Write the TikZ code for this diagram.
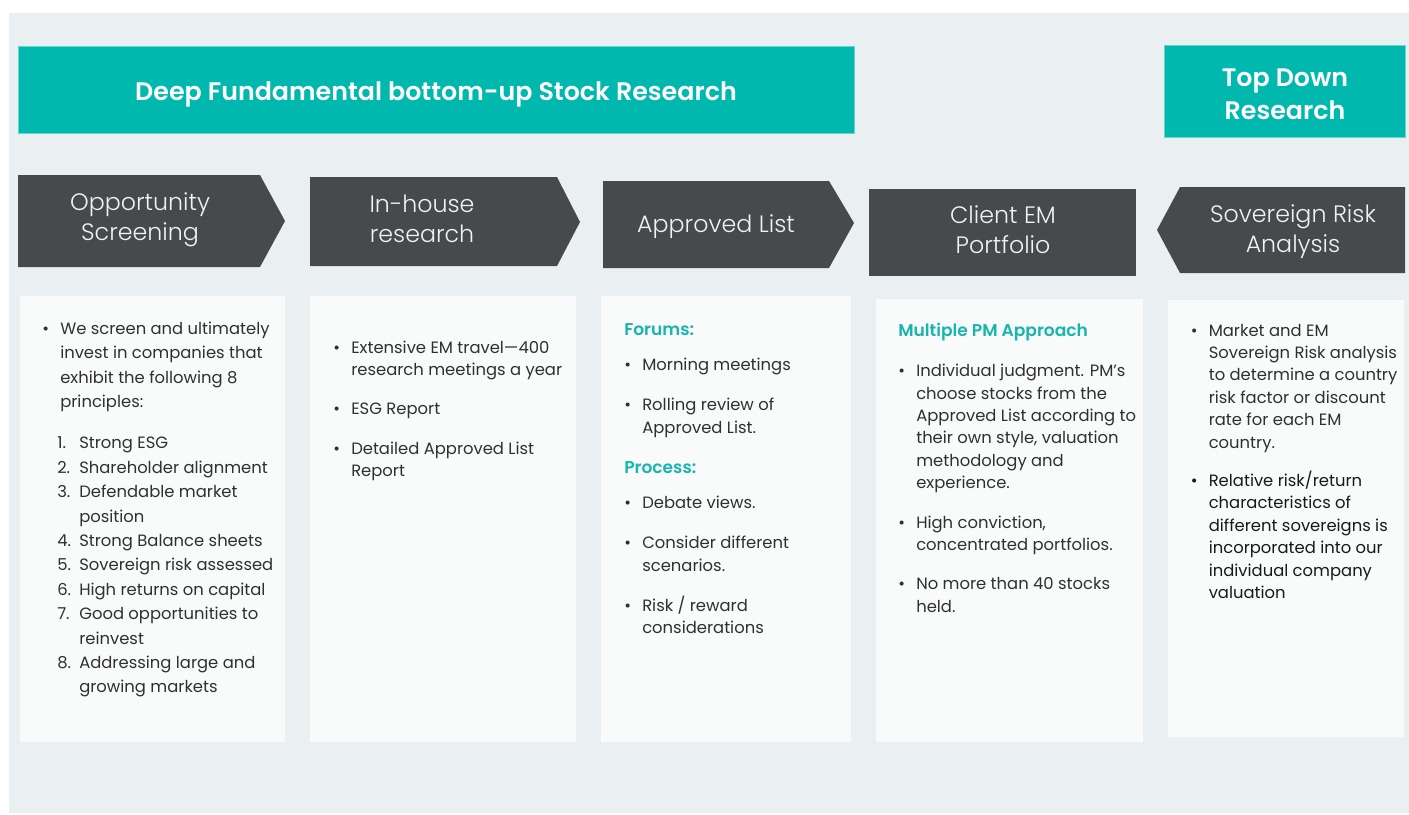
\documentclass[tikz,border=0pt]{standalone}
\usepackage{fontspec}
\setmainfont{Poppins}
\newfontfamily\lightfont{Poppins Light}
\newfontfamily\semifont{Poppins SemiBold}
\usetikzlibrary{positioning}

\definecolor{panelbg}{HTML}{EAEFF2}
\definecolor{cardbg}{HTML}{F9FBFB}
\definecolor{bannerteal}{HTML}{00B8AE}
\definecolor{chevgrey}{HTML}{474A4D}
\definecolor{headteal}{HTML}{16B6AD}
\definecolor{bodytext}{HTML}{303030}

% bullet and hanging indent for the card texts
\newcommand{\bul}{\makebox[13.5pt][l]{\textbullet}}
\newcommand{\ind}{\hspace*{13.5pt}}
\newcommand{\num}[1]{\hspace*{11.25pt}\makebox[16.5pt][l]{#1}}
\newcommand{\numind}{\hspace*{27.75pt}}
\newcommand{\cardhead}[1]{{\color{headteal}\semifont\fontsize{12.8pt}{16.8pt}\selectfont #1}}

\begin{document}
\begin{tikzpicture}[x=0.75pt,y=-0.75pt,
    banner/.style={fill=bannerteal, draw=bannerteal!60!white, line width=0.75pt},
    bannertext/.style={text=white, font=\semifont\fontsize{19pt}{25pt}\selectfont, align=center},
    chevron/.style={fill=chevgrey},
    chevtext/.style={text=white!95!black, font=\lightfont\fontsize{17.8pt}{22.5pt}\selectfont, align=center},
    card/.style={fill=cardbg},
    cardtext/.style={anchor=north west, inner sep=0pt, align=left, text=bodytext,
      font=\fontsize{12.3pt}{16.8pt}\selectfont}]

    \useasboundingbox (0,0) rectangle (1409,814);
    \fill[panelbg] (9,13) rectangle (1409,813);

    % Banners
    \draw[banner] (18,46) rectangle (854,133);
    \node[bannertext] (bottomup) at (436,94) {Deep Fundamental bottom-up Stock Research};
    \draw[banner] (1164,45) rectangle (1405,137);
    \node[bannertext] (topdown) at (1285,94) {Top Down\\Research};

    % Process chevrons
    \fill[chevron] (18,175) -- (260,175) -- (285,221) -- (260,267) -- (18,267) -- cycle;
    \node[chevtext] (screening) at (140,220) {Opportunity\\Screening};
    \fill[chevron] (310,177) -- (557,177) -- (580,222) -- (557,266) -- (310,266) -- cycle;
    \node[chevtext] (inhouse) at (422,219) {In-house\\research};
    \fill[chevron] (603,181) -- (829,181) -- (854,223) -- (829,268) -- (603,268) -- cycle;
    \node[chevtext] (approved) at (716,227) {Approved List};
    \fill[chevron] (869,189) rectangle (1136,276);
    \node[chevtext] (portfolio) at (1003,230) {Client EM\\Portfolio};
    \fill[chevron] (1405,187) -- (1180,187) -- (1157,230) -- (1180,273) -- (1405,273) -- cycle;
    \node[chevtext] (sovereign) at (1293,232) {Sovereign Risk\\Analysis};

    % Cards
    \fill[card] (20,296) rectangle (285,742);
    \fill[card] (310,296) rectangle (576,742);
    \fill[card] (601,296) rectangle (851,742);
    \fill[card] (876,299) rectangle (1143,742);
    \fill[card] (1168,300) rectangle (1404,737);

    % Card texts
    \node[cardtext, font=\fontsize{12.3pt}{18.3pt}\selectfont] (principles) at (42,321.5) {%
      \bul We screen and ultimately\\
      \ind invest in companies that\\
      \ind exhibit the following 8\\
      \ind principles:\\[12.75pt]
      \num{1.}Strong ESG\\
      \num{2.}Shareholder alignment\\
      \num{3.}Defendable market\\
      \numind position\\
      \num{4.}Strong Balance sheets\\
      \num{5.}Sovereign risk assessed\\
      \num{6.}High returns on capital\\
      \num{7.}Good opportunities to\\
      \numind reinvest\\
      \num{8.}Addressing large and\\
      \numind growing markets};

    \node[cardtext] (travel) at (333,340.5) {%
      \bul Extensive EM travel---400\\
      \ind research meetings a year\\[12.3pt]
      \bul ESG Report\\[13.2pt]
      \bul Detailed Approved List\\
      \ind Report};

    \node[cardtext] (forums) at (624,323.5) {%
      \cardhead{Forums:}\\[9.6pt]
      \bul Morning meetings\\[13.2pt]
      \bul Rolling review of\\
      \ind Approved List.\\[13.2pt]
      \cardhead{Process:}\\[9.8pt]
      \bul Debate views.\\[13.2pt]
      \bul Consider different\\
      \ind scenarios.\\[13.2pt]
      \bul Risk / reward\\
      \ind considerations};

    \node[cardtext] (multipm) at (898,323) {%
      \cardhead{Multiple PM Approach}\\[13.2pt]
      \bul Individual judgment. PM’s\\
      \ind choose stocks from the\\
      \ind Approved List according to\\
      \ind their own style, valuation\\
      \ind methodology and\\
      \ind experience.\\[12.75pt]
      \bul High conviction,\\
      \ind concentrated portfolios.\\[12.75pt]
      \bul No more than 40 stocks\\
      \ind held.};

    \node[cardtext] (riskanalysis) at (1190.5,323.7) {%
      \bul Market and EM\\
      \ind Sovereign Risk analysis\\
      \ind to determine a country\\
      \ind risk factor or discount\\
      \ind rate for each EM\\
      \ind country.\\[12pt]
      {\color{black!90}\bul Relative risk/return}\\
      {\color{black!90}\ind characteristics of}\\
      {\color{black!90}\ind different sovereigns is}\\
      {\color{black!90}\ind incorporated into our}\\
      {\color{black!90}\ind individual company}\\
      {\color{black!90}\ind valuation}};
\end{tikzpicture}
\end{document}
